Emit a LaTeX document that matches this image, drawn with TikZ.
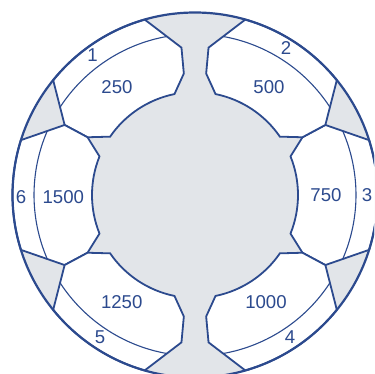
\documentclass[tikz,border=0pt]{standalone}
\usepackage{fontspec}
\setmainfont{Liberation Sans}
\definecolor{rotorblue}{RGB}{44,74,142}
\definecolor{rotorgray}{RGB}{226,229,233}
\tikzset{
  bucket/.style={fill=white, draw=rotorblue, line width=0.9pt},
  band/.style={draw=rotorblue, line width=0.55pt},
  lbl/.style={text=rotorblue, font=\fontsize{9.3}{11}\selectfont, inner sep=0pt},
}
\begin{document}
\begin{tikzpicture}[x=0.5pt,y=0.5pt]
  % Bounding box cuts the rotor at the right and bottom
  \useasboundingbox (-195,-179) rectangle (179,195);
  \clip (-195,-179) rectangle (179,195);

  % Rotor body with hub and spokes
  \fill[rotorgray] (0,0) circle (182.5);

  % Six buckets, each with its thin inner arc
  \foreach \a in {0,56.5,123.5,180,236.5,303.5} {
    \draw[bucket] (\a-17.5:182.5) arc[start angle=\a-17.5, end angle=\a+17.5, radius=182.5]
      -- (\a+28.25:148) -- (\a+28.25:122) -- (\a+22:103)
      arc[start angle=\a+22, end angle=\a-22, radius=103]
      -- (\a-28.25:122) -- (\a-28.25:148) -- cycle;
    \draw[band] (\a-23.4:161) arc[start angle=\a-23.4, end angle=\a+23.4, radius=161];
  }

  % Outer rim
  \draw[rotorblue, line width=1.1pt] (0,0) circle (182.5);

  % Bucket numbers and values
  \node[lbl] (num1) at (-102.5,140) {1};
  \node[lbl] (val1) at (-78,107.5) {250};
  \node[lbl] (num2) at (91,147) {2};
  \node[lbl] (val2) at (74,108) {500};
  \node[lbl] (num3) at (172,0) {3};
  \node[lbl] (val3) at (131,0) {750};
  \node[lbl] (num4) at (95,-142) {4};
  \node[lbl] (val4) at (71,-107) {1000};
  \node[lbl] (num5) at (-95,-142) {5};
  \node[lbl] (val5) at (-73.3,-106.7) {1250};
  \node[lbl] (num6) at (-174,-2) {6};
  \node[lbl] (val6) at (-131.7,-2.3) {1500};
\end{tikzpicture}
\end{document}
